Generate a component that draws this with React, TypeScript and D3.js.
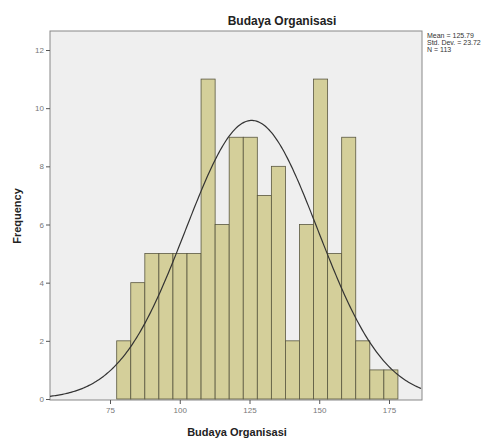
import React, { useEffect, useRef } from 'react';
import * as d3 from 'd3';

const W = 503;
const H = 439;

// histogram of Budaya Organisasi
const binStart = 77.4;
const binWidth = 5.04;
const counts = [2, 4, 5, 5, 5, 5, 11, 6, 9, 9, 7, 8, 2, 6, 11, 5, 9, 2, 1, 1];
const xTicks = [75, 100, 125, 150, 175];
const yTicks = [0, 2, 4, 6, 8, 10, 12];
const stats = { mean: 125.79, sd: 23.72, n: 113 };
const statLines = ['Mean = 125.79', 'Std. Dev. = 23.72', 'N = 113'];

export default function App() {
  const ref = useRef<SVGSVGElement>(null);

  useEffect(() => {
    const svg = d3.select(ref.current);
    svg.selectAll('*').remove();

    const left = 50, right = 422, top = 31, bottom = 400;
    const x = d3.scaleLinear().domain([53.49, 186.83]).range([left, right]);
    const y = d3.scaleLinear().domain([0, 12]).range([399, 50]);

    svg.append('rect')
      .attr('x', left).attr('y', top)
      .attr('width', right - left).attr('height', bottom - top)
      .attr('fill', '#efefef')
      .attr('stroke', '#888').attr('stroke-width', 1);

    const bins = counts.map((c, i) => ({ x0: binStart + i * binWidth, x1: binStart + (i + 1) * binWidth, c }));
    svg.append('g').selectAll('rect').data(bins).enter().append('rect')
      .attr('x', d => x(d.x0))
      .attr('y', d => y(d.c))
      .attr('width', d => x(d.x1) - x(d.x0))
      .attr('height', d => y(0) - y(d.c))
      .attr('fill', '#d4cf9a')
      .attr('stroke', '#5a5840')
      .attr('stroke-width', 0.8);

    // normal curve
    const k = stats.n * binWidth / (stats.sd * Math.sqrt(2 * Math.PI));
    const pts = d3.range(53.49, 186.84, 0.5).map(v => [v, k * Math.exp(-0.5 * ((v - stats.mean) / stats.sd) ** 2)]);
    svg.append('path')
      .attr('d', d3.line().x(d => x(d[0])).y(d => y(d[1]))(pts as [number, number][]))
      .attr('fill', 'none').attr('stroke', '#333').attr('stroke-width', 1.2);

    const gx = svg.append('g').attr('transform', `translate(0,${bottom})`)
      .call(d3.axisBottom(x).tickValues(xTicks).tickSize(4).tickPadding(3));
    gx.select('.domain').remove();
    gx.selectAll('line').attr('stroke', '#555');
    gx.selectAll('text').attr('fill', '#777').style('font', '8px Arial, sans-serif');

    const gy = svg.append('g').attr('transform', `translate(${left},0)`)
      .call(d3.axisLeft(y).tickValues(yTicks).tickSize(4).tickPadding(2));
    gy.select('.domain').remove();
    gy.selectAll('line').attr('stroke', '#555');
    gy.selectAll('text').attr('fill', '#777').style('font', '8px Arial, sans-serif');

    svg.append('text').text('Budaya Organisasi')
      .attr('x', 282).attr('y', 25).attr('text-anchor', 'middle')
      .style('font', 'bold 12px Arial, sans-serif').attr('fill', '#222');
    svg.append('text').text('Budaya Organisasi')
      .attr('x', 237).attr('y', 436).attr('text-anchor', 'middle')
      .style('font', 'bold 11px Arial, sans-serif').attr('fill', '#222');
    svg.append('text').text('Frequency')
      .attr('transform', 'translate(21,216) rotate(-90)').attr('text-anchor', 'middle')
      .style('font', 'bold 11px Arial, sans-serif').attr('fill', '#222');

    svg.append('g').selectAll('text').data(statLines).enter().append('text')
      .text(d => d)
      .attr('x', 427).attr('y', (d, i) => 38 + i * 7)
      .style('font', '7px Arial, sans-serif').attr('fill', '#333');
  }, []);

  return (
    <svg ref={ref} width={W} height={H} style={{ position: 'absolute', left: 0, top: 0, background: '#fff' }} />
  );
}
